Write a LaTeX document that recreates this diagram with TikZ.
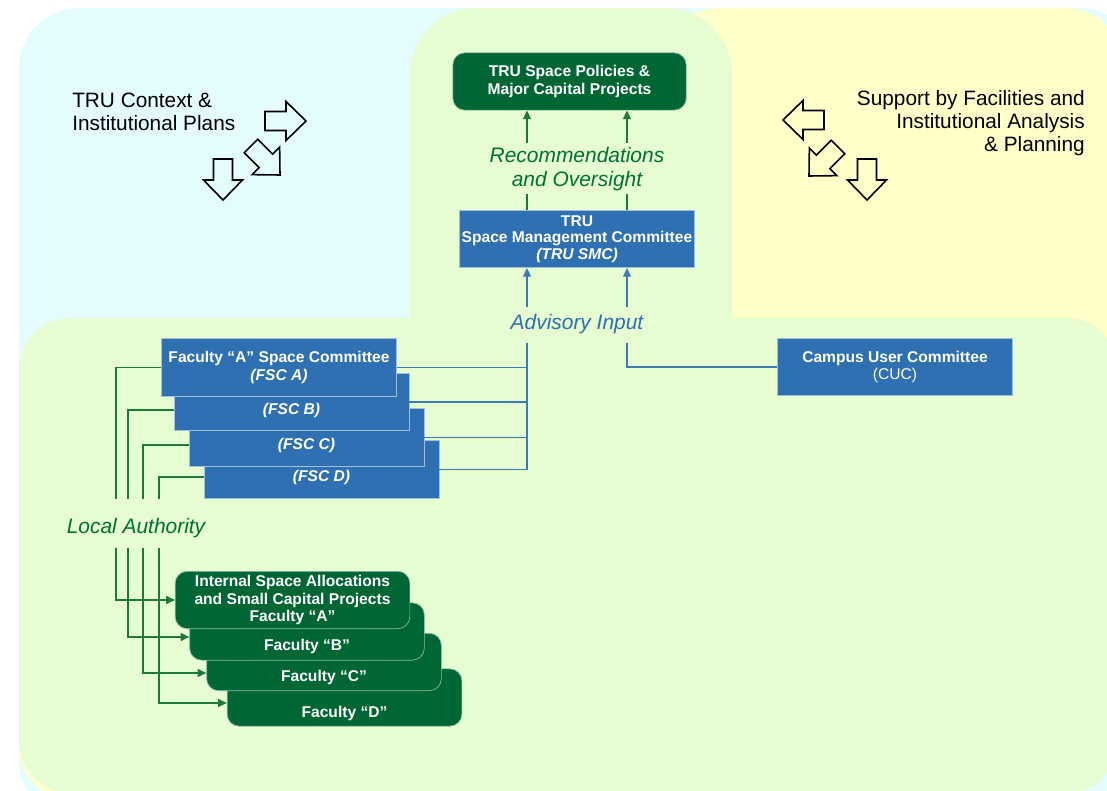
\documentclass[tikz,border=0pt]{standalone}
\usepackage{fontspec}
\setmainfont{Liberation Sans}
\usetikzlibrary{arrows.meta,calc}

\definecolor{bgcyan}{RGB}{228,252,254}
\definecolor{bgyellow}{RGB}{255,255,201}
\definecolor{bggreen}{RGB}{230,253,210}
\definecolor{boxblue}{RGB}{46,112,178}
\definecolor{boxgreen}{RGB}{0,102,51}
\definecolor{txtgreen}{RGB}{0,112,52}
\definecolor{txtblue}{RGB}{48,110,172}
\definecolor{linegreen}{RGB}{30,120,60}
\definecolor{lineblue}{RGB}{62,122,180}

\tikzset{
	boxtext/.style={inner sep=0pt, text=white, align=center, font=\fontsize{11.7}{13.4}\selectfont\bfseries},
	bluebox/.style={boxtext, rectangle, fill=boxblue, draw=white!55!boxblue, line width=0.5pt, minimum width=176pt, minimum height=43pt},
	greenbox/.style={bluebox, fill=boxgreen, draw=white!55!boxgreen, rounded corners=9pt},
	flowtext/.style={inner sep=0pt, align=center, font=\fontsize{15.7}{18}\selectfont\itshape},
	sidetext/.style={inner sep=0pt, font=\fontsize{15.6}{17.3}\selectfont},
	gline/.style={draw=linegreen, line width=0.8pt},
	bline/.style={draw=lineblue, line width=0.8pt},
	tipped/.style={-{Triangle[length=6.5pt,width=6pt]}},
	blockarrow/.pic={
		\draw[line width=1.2pt, line join=miter] (-20.5,-9.5) -- (0.5,-9.5) -- (0.5,-19.5) -- (20.5,0) -- (0.5,19.5) -- (0.5,9.5) -- (-20.5,9.5) -- cycle;
	}
}

\begin{document}
\begin{tikzpicture}[x=0.75pt,y=0.75pt,yscale=-1,xscale=1]
	\useasboundingbox (0,0) rectangle (1107,791);
	\clip (0,0) rectangle (1107,791);

	%Background panels
	\fill[bgcyan, rounded corners=45pt] (19,8) rectangle (1140,820);
	\fill[bgyellow, rounded corners=45pt] (660,8) rectangle (1125,420);
	\fill[bgyellow, rounded corners=39pt] (19,325) rectangle (1100,799);
	\fill[bggreen, rounded corners=50pt] (410,8) rectangle (732,430);
	\fill[bggreen, rounded corners=39pt] (19,318) rectangle (1118,793);

	%Block arrows
	\pic at (285.5,121) {blockarrow};
	\pic[rotate=-45] at (265.5,160.5) {blockarrow};
	\pic[rotate=-90] at (223,179.5) {blockarrow};
	\pic[rotate=180] at (803.5,120) {blockarrow};
	\pic[rotate=-135] at (823.5,161.5) {blockarrow};
	\pic[rotate=-90] at (867,179.5) {blockarrow};

	% Text Node
	\node[sidetext, anchor=west, align=left] (ctx) at (72,111.5) {TRU Context \&\\Institutional Plans};
	% Text Node
	\node[sidetext, anchor=east, align=right] (sup) at (1085,123.5) {Support by Facilities and\\Institutional Analysis\\\& Planning};

	%Top of the chain
	\node[greenbox, minimum width=175pt] (pol) at (569.5,81.5) {TRU Space Policies \&\\Major Capital Projects};
	\node[flowtext, text=txtgreen] (rec) at (577,169) {Recommendations\\and Oversight};
	\node[bluebox, font=\fontsize{11.7}{12.4}\selectfont\bfseries] (smc) at (577,239) {TRU\\Space Management Committee\\\textit{(TRU SMC)}};
	\node[flowtext, text=txtblue] (adv) at (577,324) {Advisory Input};
	\node[bluebox] (cuc) at (895,367) {Campus User Committee\\\mdseries(CUC)};

	\coordinate (recL) at (527,143);
	\coordinate (recR) at (627,143);
	\coordinate (tkL) at (527,194);
	\coordinate (tkR) at (627,194);
	\coordinate (upL) at (527,307);
	\coordinate (upR) at (627,307);
	\coordinate (advL) at (527,343);
	\coordinate (advR) at (627,343);

	\draw[gline, tipped] (recL) -- (recL |- pol.south);
	\draw[gline, tipped] (recR) -- (recR |- pol.south);
	\draw[gline] (smc.north -| tkL) -- (tkL);
	\draw[gline] (smc.north -| tkR) -- (tkR);
	\draw[bline, tipped] (upL) -- (upL |- smc.south);
	\draw[bline, tipped] (upR) -- (upR |- smc.south);
	\draw[bline] (advR) |- (cuc.west);

	%Faculty space committees
	\node[bluebox] (fscD) at (321.5,469.5) {};
	\node[boxtext] (fsctD) at ($(fscD)+(0,7.5)$) {\itshape (FSC D)};
	\node[bluebox] (fscC) at (306.5,437.5) {};
	\node[boxtext] (fsctC) at ($(fscC)+(0,7.5)$) {\itshape (FSC C)};
	\node[bluebox] (fscB) at (291.5,402) {};
	\node[boxtext] (fsctB) at ($(fscB)+(0,8)$) {\itshape (FSC B)};
	\node[bluebox, font=\fontsize{11.7}{14.2}\selectfont\bfseries] (fscA) at (279,367.5) {Faculty “A” Space Committee\\\textit{(FSC A)}};

	\draw[bline] (advL) |- (fscD.east);
	\foreach \n in {A,B,C}
		\draw[bline] (fsc\n.east) -- (fsc\n.east -| advL);

	% Text Node
	\node[flowtext, text=txtgreen] (auth) at (136,528) {Local Authority};

	%Faculty allocations
	\node[greenbox] (faD) at (344.5,697.5) {};
	\node[boxtext] (factD) at ($(faD)+(0,15.5)$) {Faculty “D”};
	\node[greenbox] (faC) at (324,662) {};
	\node[boxtext] (factC) at ($(faC)+(0,15)$) {Faculty “C”};
	\node[greenbox] (faB) at (307,631.5) {};
	\node[boxtext] (factB) at ($(faB)+(0,14.5)$) {Faculty “B”};
	\node[greenbox] (faA) at (292.5,600) {Internal Space Allocations\\and Small Capital Projects\\Faculty “A”};

	\foreach \n/\x in {A/116,B/128,C/143,D/159}{
		\coordinate (la\n) at (\x,499);
		\coordinate (lb\n) at (\x,548);
	}
	\draw[gline] (fscA.west) -| (laA);
	\foreach \n in {B,C,D}
		\draw[gline] (fsct\n -| fsc\n.west) -| (la\n);
	\foreach \n/\dy in {A/0,B/5.5,C/11,D/5.5}
		\draw[gline, tipped] (lb\n) |- ($(fa\n.west)+(0,\dy)$);

\end{tikzpicture}
\end{document}
